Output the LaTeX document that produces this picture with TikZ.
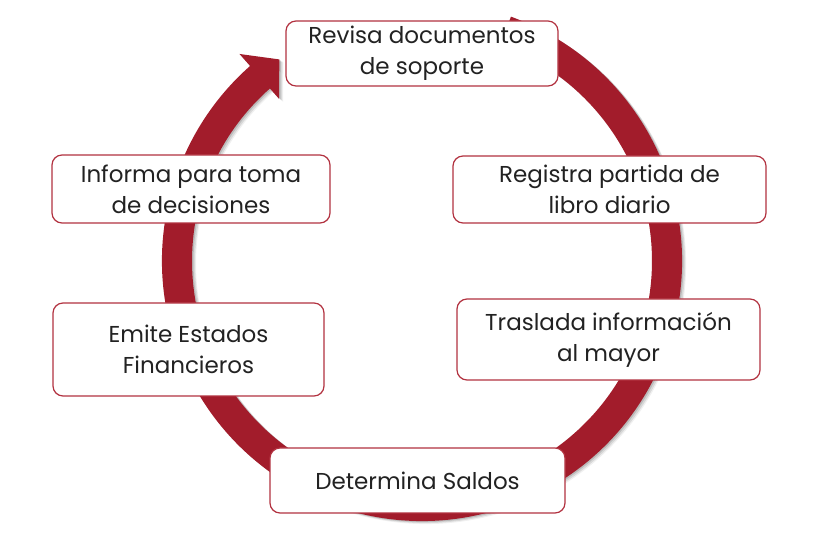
\documentclass[tikz,border=0pt]{standalone}
\usepackage{fontspec}
\setmainfont{Poppins}
\definecolor{ringred}{HTML}{A21C2B}
\definecolor{boxred}{HTML}{B23240}
\definecolor{txt}{HTML}{222222}
\newcommand\cyclepath{(70:260) arc[start angle=70,end angle=-228.6,radius=260] -- (-228.6:276) -- (-234.7:247) -- (-228.6:216) -- (-228.6:230) arc[start angle=-228.6,end angle=70,radius=230] -- cycle}
\begin{document}
\begin{tikzpicture}[x=1pt,y=1pt,
  box/.style={draw=boxred, line width=1.2pt, fill=white, rounded corners=10pt,
    align=center, inner sep=0pt, text=txt, font=\fontsize{23}{31}\selectfont}]
\useasboundingbox (0,0) rectangle (834,556);
\begin{scope}[shift={(422,295)}]
  \fill[black, opacity=0.06, shift={(4,-3)}] \cyclepath;
  \fill[black, opacity=0.10, shift={(3,-2)}] \cyclepath;
  \fill[black, opacity=0.14, shift={(1.5,-1)}] \cyclepath;
  \fill[ringred] \cyclepath;
\end{scope}
\node[box, minimum width=272pt, minimum height=65pt] (revisa) at (422,502.5) {Revisa documentos\\de soporte};
\node[box, minimum width=313pt, minimum height=67pt] (registra) at (609.5,366.5) {Registra partida de\\libro diario};
\node[box, minimum width=303pt, minimum height=81pt] (traslada) at (608.5,216.5) {Traslada información\\al mayor};
\node[box, minimum width=295pt, minimum height=65pt] (determina) at (417.5,75.5) {Determina Saldos};
\node[box, minimum width=271pt, minimum height=93pt] (emite) at (188.5,206.5) {Emite Estados\\Financieros};
\node[box, minimum width=278pt, minimum height=68pt] (informa) at (191,367) {Informa para toma\\de decisiones};
\end{tikzpicture}
\end{document}
